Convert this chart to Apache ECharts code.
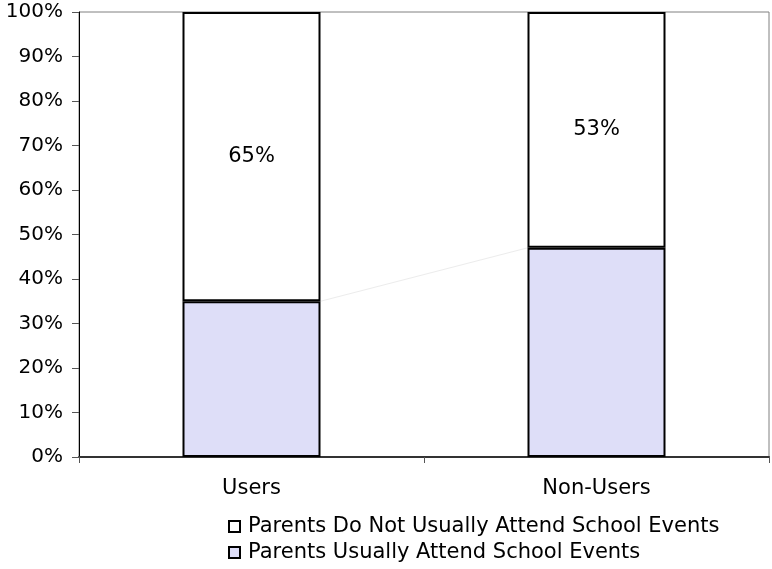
<!DOCTYPE html>
<html>
<head>
<meta charset="utf-8">
<script src="https://cdn.jsdelivr.net/npm/echarts@6/dist/echarts.min.js"></script>
<style>
  html, body { margin: 0; padding: 0; background: #ffffff; }
  #chart { width: 772px; height: 569px; }
</style>
</head>
<body>
<div id="chart"></div>
<script>
// Share of parents attending school events, by user group
var categories = ['Users', 'Non-Users'];
var attendValues = [35, 47];       // Parents Usually Attend School Events
var notAttendValues = [65, 53];    // Parents Do Not Usually Attend School Events
var seriesNames = [
  'Parents Do Not Usually Attend School Events',
  'Parents Usually Attend School Events'
];

var FONT = '"DejaVu Sans", "Liberation Sans", Arial, sans-serif';
var BAR_WIDTH_RATIO = 0.4;

var chart = echarts.init(document.getElementById('chart'), null, { renderer: 'canvas' });

// Faint connector between tops of the lower segments of neighbouring bars
var connectorData = attendValues.map(function (v, i) { return [i, v]; });

var option = {
  animation: false,
  backgroundColor: '#ffffff',
  grid: {
    left: 79, right: 3, top: 12, bottom: 112,
    show: true, borderColor: '#808080', borderWidth: 1, backgroundColor: 'transparent'
  },
  legend: {
    orient: 'vertical',
    left: 228, top: 516,
    width: 540, height: 80,
    padding: 0,
    itemWidth: 11, itemHeight: 11,
    itemGap: 5,
    icon: 'rect',
    data: seriesNames,
    itemStyle: { borderColor: '#000', borderWidth: 2 },
    textStyle: { fontFamily: FONT, fontSize: 21, color: '#000', padding: [0, 0, 0, 3] }
  },
  xAxis: {
    type: 'category',
    data: categories,
    axisLine: { show: true, lineStyle: { color: '#333', width: 2 } },
    axisTick: { show: true, length: 6, lineStyle: { color: '#555', width: 1 } },
    axisLabel: { fontFamily: FONT, fontSize: 21, color: '#000', margin: 21 },
    splitLine: { show: false }
  },
  yAxis: {
    type: 'value',
    min: 0, max: 100, interval: 10,
    axisLine: { show: true, lineStyle: { color: '#000', width: 1 } },
    axisTick: { show: true, length: 7, lineStyle: { color: '#555', width: 1 } },
    axisLabel: { formatter: '{value}%', fontFamily: FONT, fontSize: 20, color: '#000', margin: 16 },
    splitLine: { show: false }
  },
  series: [
    {
      name: seriesNames[1],
      type: 'bar',
      stack: 'total',
      barWidth: (BAR_WIDTH_RATIO * 100) + '%',
      data: attendValues,
      itemStyle: { color: '#dedef8', borderColor: '#000', borderWidth: 2 },
      z: 2
    },
    {
      name: seriesNames[0],
      type: 'bar',
      stack: 'total',
      barWidth: (BAR_WIDTH_RATIO * 100) + '%',
      data: notAttendValues,
      itemStyle: { color: '#ffffff', borderColor: '#000', borderWidth: 2 },
      label: {
        show: true,
        position: 'inside',
        formatter: '{c}%',
        fontFamily: FONT, fontSize: 21, color: '#000'
      },
      z: 2
    },
    {
      type: 'custom',
      silent: true,
      data: connectorData.slice(0, connectorData.length - 1),
      renderItem: function (params, api) {
        var i = api.value(0);
        var p0 = api.coord([i, attendValues[i]]);
        var p1 = api.coord([i + 1, attendValues[i + 1]]);
        var band = api.size([1, 0])[0];
        var half = band * BAR_WIDTH_RATIO / 2;
        return {
          type: 'line',
          shape: { x1: p0[0] + half, y1: p0[1], x2: p1[0] - half, y2: p1[1] },
          style: { stroke: '#ececec', lineWidth: 1 }
        };
      },
      z: 1
    }
  ]
};

chart.setOption(option);
</script>
</body>
</html>
